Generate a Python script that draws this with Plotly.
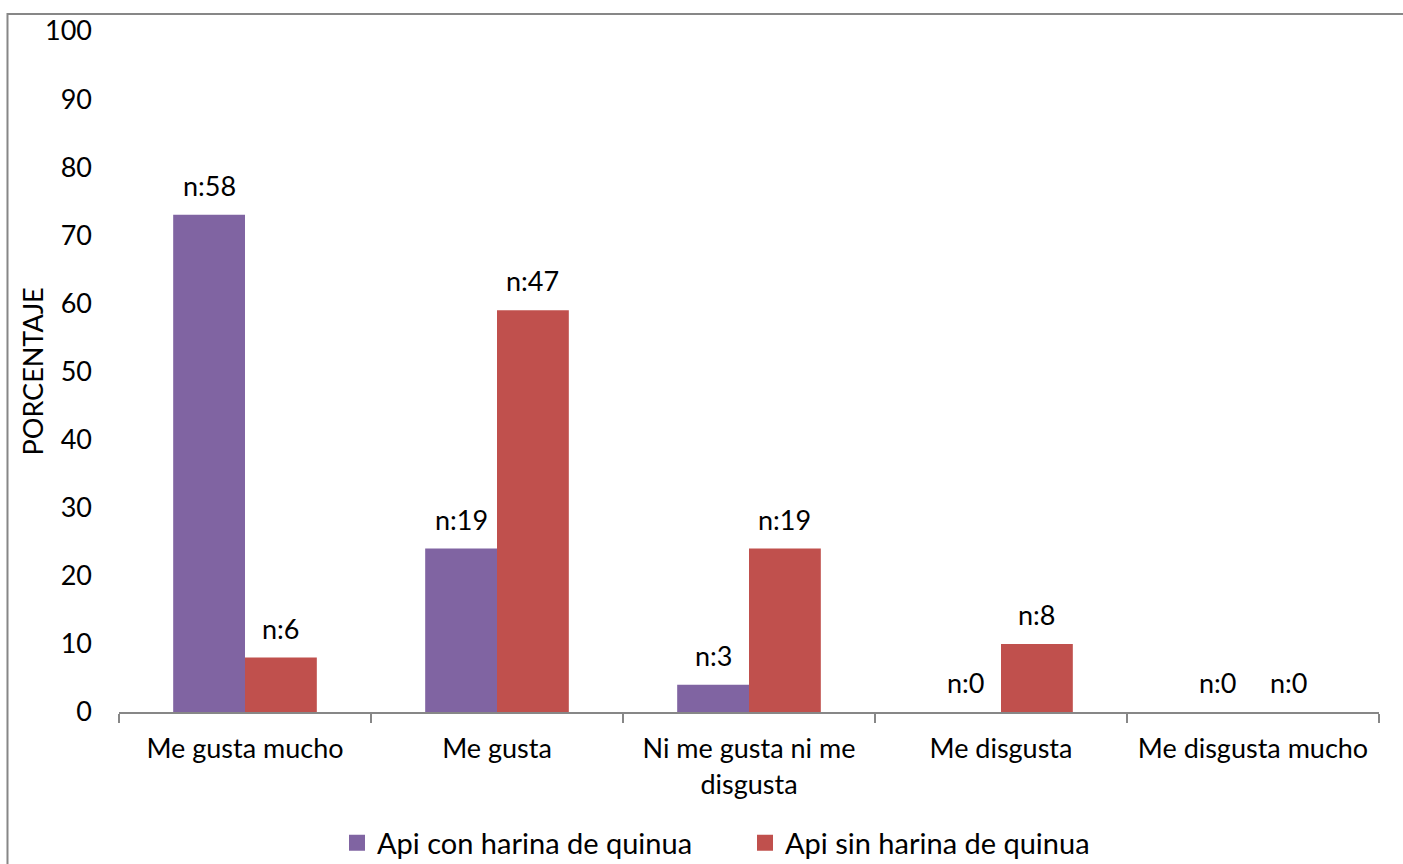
import plotly.graph_objects as go

categorias = ["Me gusta mucho", "Me gusta", "Ni me gusta ni me<br>disgusta", "Me disgusta", "Me disgusta mucho"]
serie_con = "Api con harina de quinua"
serie_sin = "Api sin harina de quinua"
pct_con = [73, 24, 4, 0, 0]
pct_sin = [8, 59, 24, 10, 0]
n_con = [58, 19, 3, 0, 0]
n_sin = [6, 47, 19, 8, 0]
titulo_y = "PORCENTAJE"

FONT = "Lato"
FS = 27
PURPLE = "#8064A2"
RED = "#C0504D"
BAR_GAP = 0.43
half = (1 - BAR_GAP) / 4  # centre offset of each bar within its group

fig = go.Figure()
fig.add_trace(go.Bar(x=categorias, y=pct_con, name=serie_con, marker_color=PURPLE,
                     marker_line_width=0, showlegend=False))
fig.add_trace(go.Bar(x=categorias, y=pct_sin, name=serie_sin, marker_color=RED,
                     marker_line_width=0, showlegend=False))

# legend entries with larger square swatches
for name, color in ((serie_con, PURPLE), (serie_sin, RED)):
    fig.add_trace(go.Scatter(x=[None], y=[None], mode="markers", name=name,
                             marker=dict(symbol="square", size=18, color=color)))

# n labels above each bar, placed on a numeric overlay axis aligned with the categories
annotations = []
for i in range(len(categorias)):
    for off, val, n in ((-half, pct_con[i], n_con[i]), (half, pct_sin[i], n_sin[i])):
        annotations.append(dict(x=i + off, y=val, xref="x2", yref="y", text=f"n:{n}",
                                showarrow=False, yanchor="bottom", yshift=11,
                                font=dict(family=FONT, size=FS, color="#000000")))

# vertical axis title
annotations.append(dict(x=-0.0683, y=0.5, xref="paper", yref="paper", text=titulo_y,
                        textangle=-90, showarrow=False, xanchor="center", yanchor="middle",
                        font=dict(family=FONT, size=FS, color="#000000")))

fig.update_layout(
    width=1403, height=864,
    margin=dict(l=119, r=24, t=31, b=152, autoexpand=False),
    paper_bgcolor="white", plot_bgcolor="white",
    barmode="group", bargap=BAR_GAP, bargroupgap=0,
    font=dict(family=FONT, size=FS, color="#000000"),
    showlegend=True,
    legend=dict(orientation="h", xref="container", yref="container",
                x=0.2402, xanchor="left", y=0.0243, yanchor="middle",
                font=dict(family=FONT, size=29), itemwidth=30, traceorder="normal",
                entrywidth=363, entrywidthmode="pixels", tracegroupgap=0),
    xaxis=dict(showline=True, linecolor="#878787", linewidth=2, ticks="outside",
               tickson="boundaries", ticklen=9, tickcolor="#878787", tickwidth=2,
               showgrid=False, ticklabelstandoff=12, automargin=False,
               tickfont=dict(family=FONT, size=FS)),
    xaxis2=dict(overlaying="x", range=[-0.5, len(categorias) - 0.5], visible=False),
    yaxis=dict(range=[0, 100], dtick=10, showgrid=False, showline=False, zeroline=False,
               ticklabelstandoff=26, automargin=False, tickfont=dict(family=FONT, size=FS)),
    annotations=annotations,
    shapes=[dict(type="rect", xref="paper", yref="paper", x0=-0.0885, x1=1.2, y0=-0.4, y1=1.025,
                 line=dict(color="#878787", width=2), fillcolor="rgba(0,0,0,0)", layer="below")],
)

fig.write_html("out.html")
